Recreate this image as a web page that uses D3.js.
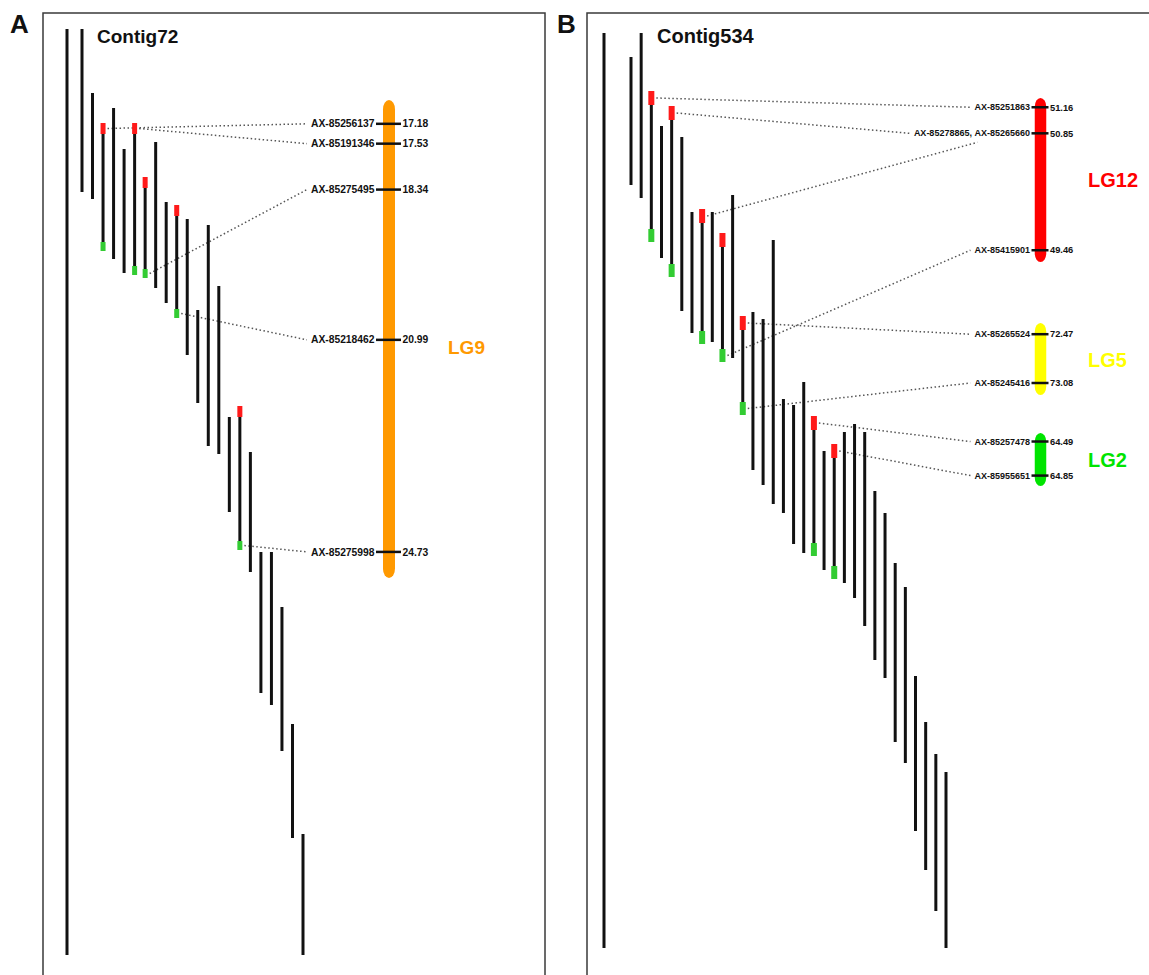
<!DOCTYPE html>
<html><head><meta charset="utf-8">
<script src="https://cdn.jsdelivr.net/npm/d3@7"></script>
<style>
body{margin:0;background:#fff}
svg{display:block}
text{font-family:"Liberation Sans",Arial,sans-serif;font-weight:bold}
</style>
</head><body>
<svg id="chart" width="1149" height="975"></svg>
<script>
// ---------------- DATA ----------------
const panelLabels = ["A", "B"];
const contigNames = ["Contig72", "Contig534"];
const contigLengths = [463, 457.5];

// Panel A reads (start / end along contig)
const readStartA = [0, 32, 47, 39.5, 60, 47, 74, 56.5, 86.5, 88, 95, 140.5, 98, 128.5, 194, 188.5, 211.5, 261.5, 261.5, 289, 347.5, 402.5];
const readEndA   = [81.5, 85, 111, 115, 122, 123, 124.5, 129.5, 137, 144.5, 163, 187, 208.5, 212.5, 241.5, 260.5, 271.5, 332, 338, 361, 404.5, 463];
const markedReadsA = [2, 5, 6, 9, 15];

// Panel B reads
const readStartB = [12, 0, 29, 46.5, 36.5, 52, 89.5, 88, 89.5, 100, 81, 141.5, 139.5, 143, 103.5, 183, 186, 174.5, 191.5, 209, 205.5, 199.5, 195.5, 199.5, 229, 240, 265, 277, 321.5, 344.5, 360.5, 369.5];
const readEndB   = [76, 82.5, 104.5, 112.5, 122, 139, 150, 155.5, 154.5, 164.5, 162.5, 191, 218.5, 226, 235.5, 240, 255.5, 260, 261.5, 268.5, 273, 275, 282.5, 296.5, 313.5, 322.5, 354.5, 365, 399, 418.5, 439, 457.5];
const markedReadsB = [2, 4, 7, 9, 11, 18, 20];

// Linkage groups
const lgNames = ["LG9", "LG12", "LG5", "LG2"];
const lg9Extent = [16.76, 25.19];
const lg9Markers = ["AX-85256137", "AX-85191346", "AX-85275495", "AX-85218462", "AX-85275998"];
const lg9Positions = [17.18, 17.53, 18.34, 20.99, 24.73];
const lg12Extent = [51.27, 49.32];
const lg12Markers = ["AX-85251863", "AX-85278865", "AX-85265660", "AX-85415901"];
const lg12Positions = [51.16, 50.85, 50.85, 49.46];
const lg5Extent = [72.33, 73.23];
const lg5Markers = ["AX-85265524", "AX-85245416"];
const lg5Positions = [72.47, 73.08];
const lg2Extent = [64.40, 64.96];
const lg2Markers = ["AX-85257478", "AX-85955651"];
const lg2Positions = [64.49, 64.85];

// Links read end -> marker
const linkReadsA = [2, 5, 6, 9, 15];
const linkEndsA = ["top", "top", "bottom", "bottom", "bottom"];
const linkMarkersA = ["AX-85256137", "AX-85191346", "AX-85275495", "AX-85218462", "AX-85275998"];
const linkReadsB = [2, 4, 7, 9, 11, 11, 18, 20];
const linkEndsB = ["top", "top", "top", "bottom", "top", "bottom", "top", "top"];
const linkMarkersB = ["AX-85251863", "AX-85278865", "AX-85265660", "AX-85415901", "AX-85265524", "AX-85245416", "AX-85257478", "AX-85955651"];

// ---------------- LAYOUT ----------------
const svg = d3.select("#chart");

const panels = [
  {
    label: panelLabels[0], labelX: 10, frameX: 43, frameW: 502,
    title: contigNames[0], titleX: 97, titleSize: 19,
    length: contigLengths[0], yRange: [29, 955], contigX: 67, readRange: [82, 303],
    starts: readStartA, ends: readEndA, marked: markedReadsA,
    mW: 5, redH: 11, greenH: 9, nameSize: 10.3, numSize: 10.3,
    lgX: 389, lgW: 12, tickL: 13, tickR: 12,
    lgs: [
      {name: lgNames[0], extent: lg9Extent, markers: lg9Markers, pos: lg9Positions, range: [100, 578], color: "#FF9900", labelX: 448, labelSize: 19, labelDy: 8}
    ],
    links: {reads: linkReadsA, ends: linkEndsA, markers: linkMarkersA}
  },
  {
    label: panelLabels[1], labelX: 557, frameX: 587, frameW: 620,
    title: contigNames[1], titleX: 657, titleSize: 20,
    length: contigLengths[1], yRange: [33, 948], contigX: 604, readRange: [631, 946],
    starts: readStartB, ends: readEndB, marked: markedReadsB,
    mW: 6, redH: 14, greenH: 13, nameSize: 9, numSize: 9.3,
    lgX: 1040.5, lgW: 11.5, tickL: 9, tickR: 8,
    lgs: [
      {name: lgNames[1], extent: lg12Extent, markers: lg12Markers, pos: lg12Positions, range: [98, 262], color: "#FF0000", labelX: 1088, labelSize: 20, labelDy: 0},
      {name: lgNames[2], extent: lg5Extent, markers: lg5Markers, pos: lg5Positions, range: [323, 395], color: "#FFFF00", labelX: 1088, labelSize: 20, labelDy: 1},
      {name: lgNames[3], extent: lg2Extent, markers: lg2Markers, pos: lg2Positions, range: [433, 486], color: "#00E400", labelX: 1088, labelSize: 20, labelDy: 0}
    ],
    links: {reads: linkReadsB, ends: linkEndsB, markers: linkMarkersB}
  }
];

panels.forEach(p => {
  const g = svg.append("g");
  g.append("rect").attr("x", p.frameX).attr("y", 13).attr("width", p.frameW).attr("height", 1100)
    .attr("fill", "none").attr("stroke", "#3a3a3a").attr("stroke-width", 1.5);
  svg.append("text").attr("x", p.labelX).attr("y", 33).attr("font-size", 26).attr("fill", "#111").text(p.label);
  g.append("text").attr("x", p.titleX).attr("y", 43).attr("font-size", p.titleSize).attr("fill", "#111").text(p.title);

  const y = d3.scaleLinear().domain([0, p.length]).range(p.yRange);
  const x = d3.scaleLinear().domain([0, p.starts.length - 1]).range(p.readRange);

  const linkG = g.append("g");

  g.append("line").attr("x1", p.contigX).attr("x2", p.contigX)
    .attr("y1", y(0)).attr("y2", y(p.length))
    .attr("stroke", "#111").attr("stroke-width", 3);

  const reads = p.starts.map((s, i) => ({i, s, e: p.ends[i]}));
  g.selectAll("line.read").data(reads).enter().append("line").attr("class", "read")
    .attr("x1", d => x(d.i)).attr("x2", d => x(d.i))
    .attr("y1", d => y(d.s)).attr("y2", d => y(d.e))
    .attr("stroke", "#111").attr("stroke-width", 3);

  const marked = reads.filter(d => p.marked.includes(d.i));
  g.selectAll("rect.red").data(marked).enter().append("rect")
    .attr("x", d => x(d.i) - p.mW / 2).attr("y", d => y(d.s))
    .attr("width", p.mW).attr("height", p.redH).attr("fill", "#FF1A1A");
  g.selectAll("rect.green").data(marked).enter().append("rect")
    .attr("x", d => x(d.i) - p.mW / 2).attr("y", d => y(d.e) - p.greenH)
    .attr("width", p.mW).attr("height", p.greenH).attr("fill", "#33CC33");

  const markerEnds = {};
  p.lgs.forEach(lg => {
    const ys = d3.scaleLinear().domain(lg.extent).range(lg.range);
    g.append("rect").attr("x", p.lgX - p.lgW / 2).attr("y", lg.range[0])
      .attr("width", p.lgW).attr("height", lg.range[1] - lg.range[0])
      .attr("rx", p.lgW / 2).attr("ry", p.lgW / 1.3).attr("fill", lg.color);
    const groups = [];
    lg.markers.forEach((m, i) => {
      const last = groups[groups.length - 1];
      if (last && last.pos === lg.pos[i]) last.names.push(m);
      else groups.push({pos: lg.pos[i], names: [m]});
    });
    groups.forEach(gr => {
      const ty = ys(gr.pos);
      g.append("line").attr("x1", p.lgX - p.tickL).attr("x2", p.lgX + p.tickR)
        .attr("y1", ty).attr("y2", ty).attr("stroke", "#111").attr("stroke-width", 2.5);
      g.append("text").attr("x", p.lgX + p.tickR + 1.5).attr("y", ty).attr("dy", "0.35em")
        .attr("font-size", p.numSize).attr("fill", "#111").text(d3.format(".2f")(gr.pos));
      let cursor = p.lgX - p.tickL - 1.5;
      const starts = [];
      for (let k = gr.names.length - 1; k >= 0; k--) {
        const isLast = k === gr.names.length - 1;
        const t = g.append("text").attr("x", cursor).attr("y", ty).attr("dy", "0.35em")
          .attr("text-anchor", "end").attr("font-size", p.nameSize).attr("fill", "#111")
          .text(gr.names[k] + (isLast ? "" : ","));
        const w = t.node().getComputedTextLength();
        starts[k] = cursor - w;
        cursor = cursor - w - p.nameSize * 0.28;
      }
      gr.names.forEach((n, k) => {
        markerEnds[n] = k === 0 ? [starts[k] - 4, ty] : [starts[k] + 3, ty + 9];
      });
    });
    g.append("text").attr("x", lg.labelX).attr("y", d3.mean(lg.range) + lg.labelDy).attr("dy", "0.35em")
      .attr("font-size", lg.labelSize).attr("fill", lg.color).text(lg.name);
  });

  p.links.reads.forEach((ri, k) => {
    const isTop = p.links.ends[k] === "top";
    const sx = x(ri) + p.mW / 2 + 2;
    const sy = isTop ? y(p.starts[ri]) + p.redH / 2 : y(p.ends[ri]) - p.greenH / 2;
    const end = markerEnds[p.links.markers[k]];
    linkG.append("line").attr("x1", sx).attr("y1", sy).attr("x2", end[0]).attr("y2", end[1])
      .attr("stroke", "#555").attr("stroke-width", 1.5).attr("stroke-dasharray", "1.5,2.5");
  });
});
</script>
</body></html>
